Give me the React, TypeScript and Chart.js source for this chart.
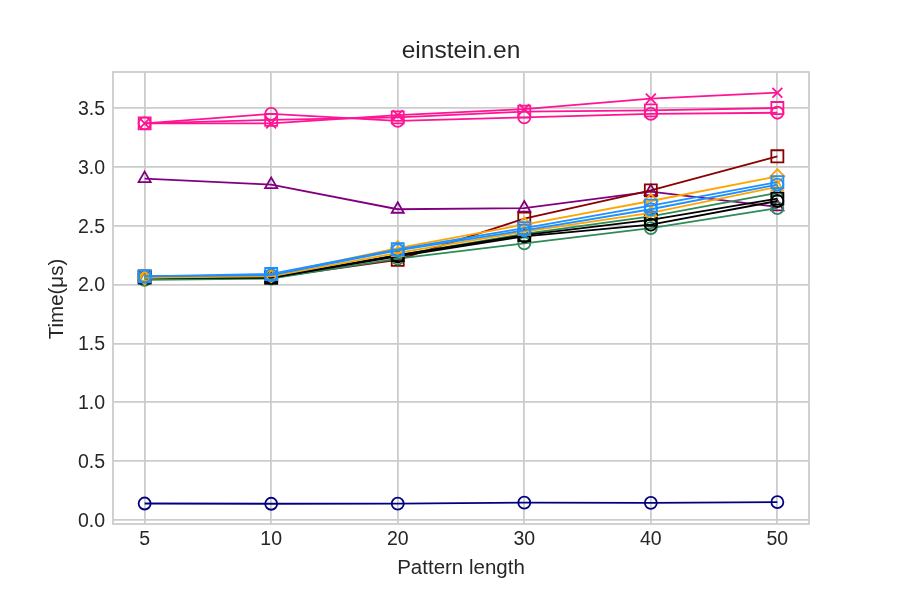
import React, { useEffect, useRef } from "react";
import { Chart, registerables } from "chart.js";

Chart.register(...registerables);

const xLabels = ["5", "10", "20", "30", "40", "50"];
const yTicks = [0, 0.5, 1.0, 1.5, 2.0, 2.5, 3.0, 3.5];

const navyCircle = [0.14, 0.138, 0.139, 0.147, 0.146, 0.151];
const pinkX = [3.37, 3.37, 3.44, 3.49, 3.58, 3.63];
const pinkSquare = [3.37, 3.4, 3.42, 3.47, 3.48, 3.5];
const pinkCircle = [3.37, 3.45, 3.39, 3.42, 3.45, 3.46];
const purpleTri = [2.9, 2.85, 2.64, 2.65, 2.79, 2.66];
const darkredSquare = [2.07, 2.06, 2.21, 2.56, 2.8, 3.09];
const orangeDiamond = [2.06, 2.08, 2.31, 2.51, 2.71, 2.92];
const blueSquare = [2.07, 2.09, 2.3, 2.48, 2.67, 2.87];
const blueCircle = [2.07, 2.08, 2.29, 2.46, 2.64, 2.85];
const orangeTri = [2.06, 2.07, 2.27, 2.45, 2.61, 2.83];
const greenTri = [2.05, 2.06, 2.25, 2.43, 2.58, 2.78];
const blackSquare = [2.06, 2.06, 2.25, 2.42, 2.55, 2.73];
const blackCircle = [2.06, 2.06, 2.24, 2.41, 2.51, 2.71];
const greenCircle = [2.04, 2.05, 2.22, 2.35, 2.48, 2.65];

const FONT = "'Liberation Sans', Arial, sans-serif";
const TEXT = "#262626";

function ds(data: number[], color: string, style: string, radius: number) {
  return {
    data: data.map((v, i) => ({ x: i, y: v })),
    borderColor: color,
    backgroundColor: color,
    borderWidth: 1.8,
    pointStyle: style,
    pointRadius: radius,
    pointBorderWidth: 1.8,
    pointBorderColor: color,
    pointBackgroundColor: "rgba(0,0,0,0)",
    fill: false,
    tension: 0,
  };
}

export default function App() {
  const ref = useRef<HTMLCanvasElement>(null);
  useEffect(() => {
    if (!ref.current) return;
    const framePlugin = {
      id: "frameAndTitles",
      beforeDatasetsDraw(chart: any) {
        const { ctx, chartArea } = chart;
        ctx.save();
        ctx.strokeStyle = "#cccccc";
        ctx.lineWidth = 1.8;
        ctx.strokeRect(chartArea.left, chartArea.top, chartArea.right - chartArea.left, chartArea.bottom - chartArea.top);
        ctx.restore();
      },
      afterDraw(chart: any) {
        const { ctx } = chart;
        ctx.save();
        ctx.fillStyle = TEXT;
        ctx.textAlign = "center";
        ctx.textBaseline = "middle";
        ctx.font = `24.5px ${FONT}`;
        ctx.fillText("einstein.en", 461, 51);
        ctx.font = `20.5px ${FONT}`;
        ctx.fillText("Pattern length", 461, 568);
        ctx.translate(57, 299);
        ctx.rotate(-Math.PI / 2);
        ctx.fillText("Time(\u03bcs)", 0, 0);
        ctx.restore();
      },
    };
    const chart = new Chart(ref.current, {
      type: "line",
      data: {
        datasets: [
          ds(navyCircle, "#000080", "circle", 6),
          ds(blueSquare, "#1e90ff", "rect", 8.5),
          ds(blueCircle, "#1e90ff", "circle", 6),
          ds(orangeDiamond, "#ffa500", "rectRot", 7),
          ds(orangeTri, "#ffa500", "triangle", 6.5),
          ds(blackSquare, "#000000", "rect", 8.5),
          ds(blackCircle, "#000000", "circle", 6),
          ds(greenTri, "#2e8b57", "triangle", 6.5),
          ds(greenCircle, "#2e8b57", "circle", 6),
          ds(darkredSquare, "#8b0000", "rect", 8.5),
          ds(purpleTri, "#800080", "triangle", 7),
          ds(pinkX, "#ff1493", "crossRot", 7),
          ds(pinkSquare, "#ff1493", "rect", 8.5),
          ds(pinkCircle, "#ff1493", "circle", 6),
        ] as any,
      },
      options: {
        animation: false,
        responsive: false,
        maintainAspectRatio: false,
        layout: { padding: { top: 72, right: 91, left: 0, bottom: 0 } },
        plugins: { legend: { display: false }, tooltip: { enabled: false }, title: { display: false } },
        scales: {
          x: {
            type: "linear",
            min: -0.25,
            max: 5.25,
            afterBuildTicks: (scale: any) => {
              scale.ticks = xLabels.map((_, i) => ({ value: i }));
            },
            afterFit: (scale: any) => {
              scale.height = 76;
            },
            ticks: {
              callback: (v: any) => xLabels[v as number] ?? "",
              font: { family: FONT, size: 19.5 },
              color: TEXT,
              padding: 4,
              autoSkip: false,
              maxRotation: 0,
            },
            grid: { color: "#cccccc", lineWidth: 1.8, drawTicks: false },
            border: { display: false },
          },
          y: {
            type: "linear",
            min: -0.034,
            max: 3.806,
            afterBuildTicks: (scale: any) => {
              scale.ticks = yTicks.map((v) => ({ value: v }));
            },
            afterFit: (scale: any) => {
              scale.width = 113;
            },
            ticks: {
              callback: (v: any) => Number(v).toFixed(1),
              font: { family: FONT, size: 19.5 },
              color: TEXT,
              padding: 8,
              labelOffset: 1.5,
            },
            grid: { color: "#cccccc", lineWidth: 1.8, drawTicks: false },
            border: { display: false },
          },
        },
      } as any,
      plugins: [framePlugin],
    });
    return () => chart.destroy();
  }, []);
  return (
    <div style={{ position: "fixed", left: 0, top: 0, width: 900, height: 600, background: "#fff" }}>
      <canvas ref={ref} width={900} height={600} style={{ width: 900, height: 600 }} />
    </div>
  );
}
